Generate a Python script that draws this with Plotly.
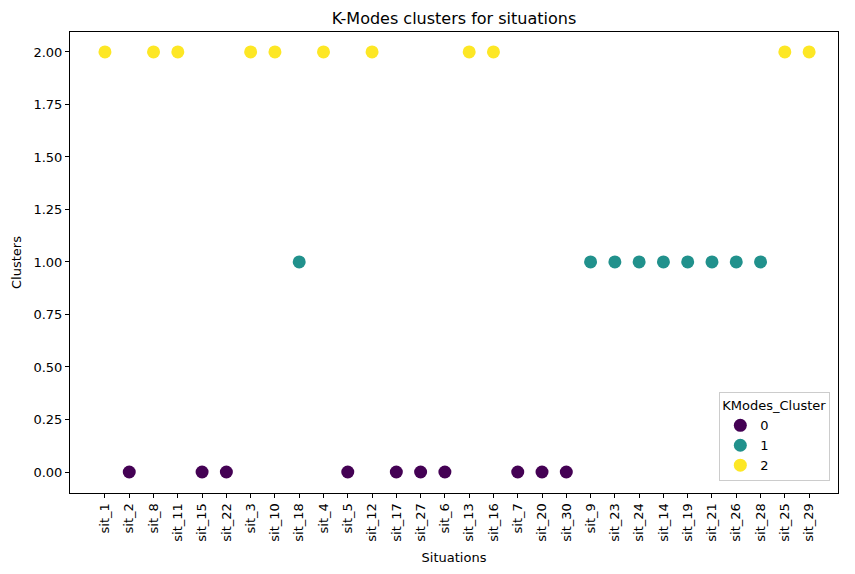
import plotly.graph_objects as go

situations = ["sit_1", "sit_2", "sit_8", "sit_11", "sit_15", "sit_22", "sit_3", "sit_10", "sit_18",
              "sit_4", "sit_5", "sit_12", "sit_17", "sit_27", "sit_6", "sit_13", "sit_16", "sit_7",
              "sit_20", "sit_30", "sit_9", "sit_23", "sit_24", "sit_14", "sit_19", "sit_21", "sit_26",
              "sit_28", "sit_25", "sit_29"]
clusters = [2, 0, 2, 2, 0, 0, 2, 2, 1,
            2, 0, 2, 0, 0, 0, 2, 2, 0,
            0, 0, 1, 1, 1, 1, 1, 1, 1,
            1, 2, 2]
cluster_ids = [0, 1, 2]
cluster_colors = ["#440154", "#21918c", "#fde725"]
y_ticks = [0.0, 0.25, 0.5, 0.75, 1.0, 1.25, 1.5, 1.75, 2.0]

font = "DejaVu Sans"
fig = go.Figure()
for cid, col in zip(cluster_ids, cluster_colors):
    xs = [s for s, c in zip(situations, clusters) if c == cid]
    ys = [c for c in clusters if c == cid]
    fig.add_trace(go.Scatter(x=xs, y=ys, mode="markers", name=str(cid),
                             marker=dict(color=col, size=13, line=dict(width=0))))

fig.update_layout(
    width=855, height=574,
    margin=dict(l=62, r=25, t=24, b=89, autoexpand=False),
    paper_bgcolor="white", plot_bgcolor="white",
    font=dict(family=font, size=13, color="black"),
    title=dict(text="K-Modes clusters for situations", x=(62 + (855 - 87) / 2) / 855, xanchor="center",
               y=1 - 10 / 574, yanchor="middle", font=dict(size=16, family=font)),
    legend=dict(title=dict(text="KModes_Cluster", side="top", font=dict(size=13)),
                x=0.99, y=0.025, xanchor="right", yanchor="bottom",
                bordercolor="#cccccc", borderwidth=1, bgcolor="white",
                font=dict(size=13)),
)
fig.update_xaxes(type="category", categoryorder="array", categoryarray=situations,
                 range=[-1.44, 30.19], showgrid=False, zeroline=False,
                 showline=True, linecolor="black", linewidth=1, mirror=True,
                 ticks="outside", ticklen=4, tickcolor="black", tickangle=-90,
                 title=dict(text="Situations", font=dict(size=13), standoff=12),
                 tickfont=dict(size=13))
fig.update_yaxes(range=[-0.1, 2.095], tickvals=y_ticks,
                 ticktext=[f"{v:.2f}" for v in y_ticks], showgrid=False, zeroline=False,
                 showline=True, linecolor="black", linewidth=1, mirror=True,
                 ticks="outside", ticklen=4, tickcolor="black",
                 title=dict(text="Clusters", font=dict(size=13), standoff=8),
                 tickfont=dict(size=13))

fig.write_html("out.html")
